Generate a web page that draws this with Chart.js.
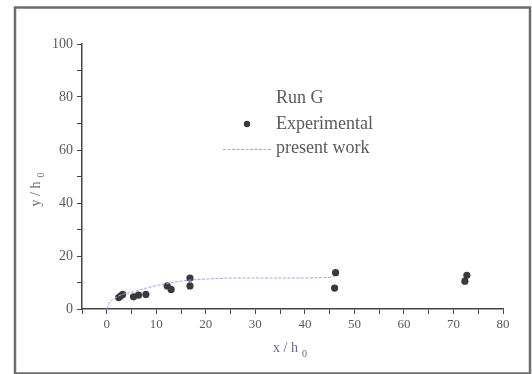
<!DOCTYPE html>
<html>
<head>
<meta charset="utf-8">
<script src="https://cdn.jsdelivr.net/npm/chart.js@4/dist/chart.umd.min.js"></script>
<style>
  html, body { margin: 0; padding: 0; background: #ffffff; }
  #wrap { width: 532px; height: 374px; }
</style>
</head>
<body>
<div id="wrap"><canvas id="c" width="532" height="374"></canvas></div>
<script>
// ---- data ----
const expX = [2.4, 3.2, 2.8, 5.4, 6.4, 7.9, 12.2, 13.0, 16.8, 16.8, 46.2, 46.0, 72.7, 72.3];
const expY = [4.3, 5.5, 4.9, 4.6, 5.2, 5.5, 8.7, 7.4, 11.7, 8.7, 13.7, 7.9, 12.7, 10.5];

const modelX = [0, 0.5, 1.5, 3, 5.4, 8, 10, 13, 16.8, 20, 23.5, 28, 33, 39.7, 45.8];
const modelY = [0, 2.2, 3.9, 5.4, 6.5, 7.9, 8.8, 9.9, 10.9, 11.3, 11.6, 11.7, 11.7, 11.7, 12.0];

const xTickLabels = ["0", "10", "20", "30", "40", "50", "60", "70", "80"];
const yTickLabels = ["0", "20", "40", "60", "80", "100"];

const legendTitle = "Run G";
const seriesNames = ["Experimental", "present work"];
const xTitle = "x / h";
const yTitle = "y / h";
const subscript = "0";

const FONT = "'Liberation Serif', 'DejaVu Serif', serif";
const textColor = "#5a5a5a";
const titleColor = "#6c6878";
const axisColor = "#444444";
const markerColor = "#3a3a3a";
const lineColor = "#a4a4e4";

const expPoints = expX.map((x, i) => ({ x: x, y: expY[i] }));
const modelPoints = modelX.map((x, i) => ({ x: x, y: modelY[i] }));

const decor = {
  id: 'decor',
  beforeDraw(chart) {
    const ctx = chart.ctx;
    ctx.save();
    ctx.fillStyle = '#ffffff';
    ctx.fillRect(0, 0, chart.width, chart.height);
    ctx.strokeStyle = '#6e6e6e';
    ctx.lineWidth = 2.5;
    ctx.strokeRect(15, 7.5, 515, 366);
    ctx.restore();
  },
  afterDraw(chart) {
    const ctx = chart.ctx;
    ctx.save();
    // axis titles
    ctx.fillStyle = titleColor;
    ctx.textBaseline = 'middle';
    ctx.font = "14px " + FONT;
    ctx.textAlign = 'left';
    const xw = ctx.measureText(xTitle).width;
    const xs = 273;
    ctx.fillText(xTitle, xs, 348);
    ctx.font = "10px " + FONT;
    ctx.fillText(subscript, xs + xw + 4, 354);

    ctx.translate(36, 189);
    ctx.rotate(-Math.PI / 2);
    ctx.font = "14px " + FONT;
    const yw = ctx.measureText(yTitle).width;
    const ys = -(yw + 10) / 2;
    ctx.fillText(yTitle, ys, 0);
    ctx.font = "10px " + FONT;
    ctx.fillText(subscript, ys + yw + 4, 5);
    ctx.setTransform(1, 0, 0, 1, 0, 0);

    // legend
    ctx.fillStyle = textColor;
    ctx.font = "18px " + FONT;
    ctx.textAlign = 'left';
    ctx.fillText(legendTitle, 276, 98);
    ctx.fillText(seriesNames[0], 276, 124);
    ctx.fillText(seriesNames[1], 276, 148);
    ctx.fillStyle = markerColor;
    ctx.beginPath();
    ctx.arc(247, 124, 3.2, 0, Math.PI * 2);
    ctx.fill();
    ctx.strokeStyle = lineColor;
    ctx.lineWidth = 1;
    ctx.setLineDash([3, 1.5]);
    ctx.beginPath();
    ctx.moveTo(223, 149.5);
    ctx.lineTo(272, 149.5);
    ctx.stroke();
    ctx.restore();
  }
};

new Chart(document.getElementById('c'), {
  type: 'scatter',
  data: {
    datasets: [
      {
        label: seriesNames[1],
        data: modelPoints,
        showLine: true,
        borderColor: lineColor,
        borderWidth: 1,
        borderDash: [3, 1.5],
        pointRadius: 0,
        cubicInterpolationMode: 'monotone',
        fill: false
      },
      {
        label: seriesNames[0],
        data: expPoints,
        showLine: false,
        pointRadius: 3.6,
        pointBackgroundColor: markerColor,
        pointBorderColor: markerColor,
        pointBorderWidth: 0
      }
    ]
  },
  options: {
    responsive: false,
    devicePixelRatio: 1,
    animation: false,
    events: [],
    layout: { padding: { left: 0, right: 29, top: 44, bottom: 0 } },
    plugins: { legend: { display: false }, tooltip: { enabled: false } },
    scales: {
      x: {
        type: 'linear',
        min: -5,
        max: 80,
        afterFit(s) { s.height = 65; },
        ticks: {
          stepSize: 5,
          autoSkip: false,
          maxRotation: 0,
          padding: 3,
          color: textColor,
          font: { family: FONT, size: 13 },
          callback(v) {
            const lbl = String(v);
            return xTickLabels.includes(lbl) && v % 10 === 0 ? lbl : '';
          }
        },
        grid: {
          display: true,
          drawOnChartArea: false,
          drawTicks: true,
          tickLength: 5,
          tickColor: axisColor,
          tickWidth: 1
        },
        border: { display: true, color: axisColor, width: 1.5 }
      },
      y: {
        type: 'linear',
        min: 0,
        max: 100,
        afterFit(s) { s.width = 82; },
        ticks: {
          stepSize: 10,
          autoSkip: false,
          padding: 4,
          color: textColor,
          font: { family: FONT, size: 14 },
          callback(v) {
            const lbl = String(v);
            return yTickLabels.includes(lbl) && v % 20 === 0 ? lbl : '';
          }
        },
        grid: {
          display: true,
          drawOnChartArea: false,
          drawTicks: true,
          tickLength: 5,
          tickColor: axisColor,
          tickWidth: 1
        },
        border: { display: true, color: axisColor, width: 1.5 }
      }
    }
  },
  plugins: [decor]
});
</script>
</body>
</html>
